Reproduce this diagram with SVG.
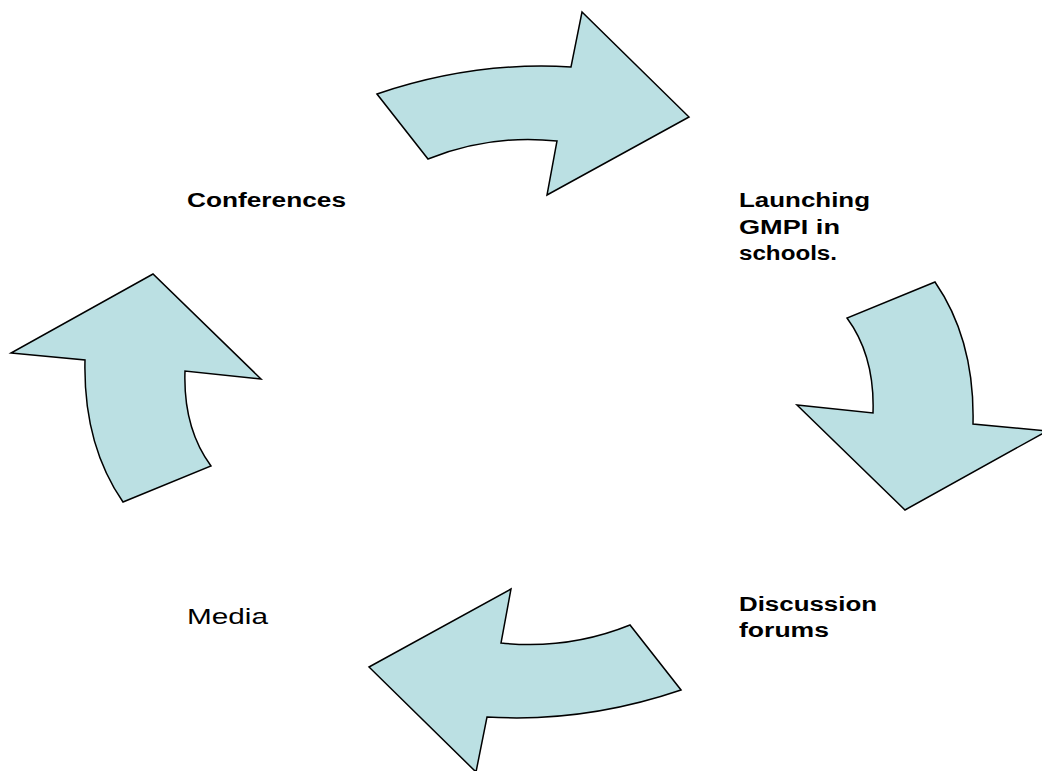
<svg xmlns="http://www.w3.org/2000/svg" width="1042" height="771" viewBox="0 0 1042 771">
<style>
.arrow{fill:#BBE0E3;stroke:#000;stroke-width:1.5;stroke-linejoin:miter}
.lbl{font-family:"Liberation Sans",Arial,sans-serif;font-size:19.5px;font-weight:bold;fill:#000}
.lblr{font-family:"Liberation Sans",Arial,sans-serif;font-size:22px;fill:#000}
</style>
<rect width="1042" height="771" fill="#fff"/>
<g id="connectors">
<path id="arrow-top" class="arrow" d="M377,94 Q474,61 571,67 L582,12 L689,117 L547,195 L557,141 Q490,134 428,159 Z"/>
<path id="arrow-right" class="arrow" d="M935,282 Q975,340 973,424 L1047,431 L905,510 L797,405 L873,413 Q875,356 847,318 Z"/>
<path id="arrow-bottom" class="arrow" d="M681,690 Q584,723 487,717 L476,772 L369,667 L511,589 L501,643 Q568,650 630,625 Z"/>
<path id="arrow-left" class="arrow" d="M123,502 Q83,444 85,360 L11,353 L153,274 L261,379 L185,371 Q183,428 211,466 Z"/>
</g>
<g id="node-conferences">
<text class="lbl" x="187" y="207" textLength="159" lengthAdjust="spacingAndGlyphs">Conferences</text>
</g>
<g id="node-launching">
<text class="lbl" x="739" y="207" textLength="131" lengthAdjust="spacingAndGlyphs">Launching</text>
<text class="lbl" x="739" y="234" textLength="101" lengthAdjust="spacingAndGlyphs">GMPI in</text>
<text class="lbl" x="739" y="260" textLength="98" lengthAdjust="spacingAndGlyphs">schools.</text>
</g>
<g id="node-discussion">
<text class="lbl" x="739" y="611" textLength="138" lengthAdjust="spacingAndGlyphs">Discussion</text>
<text class="lbl" x="739" y="637" textLength="90" lengthAdjust="spacingAndGlyphs">forums</text>
</g>
<g id="node-media">
<text class="lblr" x="187" y="624" textLength="81" lengthAdjust="spacingAndGlyphs">Media</text>
</g>
</svg>
